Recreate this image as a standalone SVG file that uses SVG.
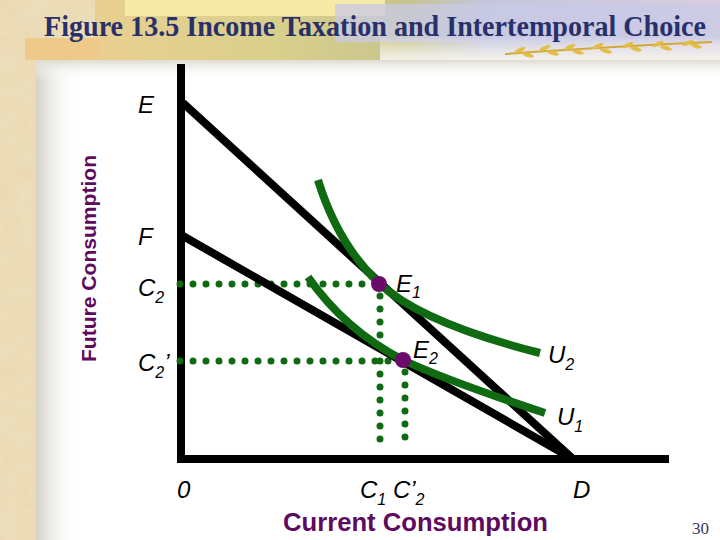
<svg xmlns="http://www.w3.org/2000/svg" width="720" height="540" viewBox="0 0 720 540">
<defs>
<linearGradient id="banner" x1="0" y1="0" x2="1" y2="0">
<stop offset="0" stop-color="#e9cf90"/>
<stop offset="0.3" stop-color="#d9cf8c"/>
<stop offset="0.5" stop-color="#c6c48e"/>
<stop offset="0.62" stop-color="#c4c6dc"/>
<stop offset="1" stop-color="#d9cde0"/>
</linearGradient>
<linearGradient id="bannerFade" x1="0" y1="0" x2="0" y2="1">
<stop offset="0" stop-color="#ffffff" stop-opacity="0"/>
<stop offset="1" stop-color="#f4f1e8" stop-opacity="1"/>
</linearGradient>
<linearGradient id="leftShade" x1="0" y1="0" x2="1" y2="0">
<stop offset="0" stop-color="#d3d1cb"/>
<stop offset="1" stop-color="#ffffff" stop-opacity="0"/>
</linearGradient>
<linearGradient id="topShade" x1="0" y1="0" x2="0" y2="1">
<stop offset="0" stop-color="#dedbd2"/>
<stop offset="1" stop-color="#ffffff" stop-opacity="0"/>
</linearGradient>
<filter id="paper" x="0" y="0" width="100%" height="100%">
<feTurbulence type="fractalNoise" baseFrequency="0.06" numOctaves="3" seed="4"/>
<feColorMatrix type="matrix" values="0 0 0 0 0.92  0 0 0 0 0.84  0 0 0 0 0.68  0 0 0 0.35 -0.05"/>
</filter>
<ellipse id="grain" cx="0" cy="0" rx="6" ry="2" fill="#e3bd45"/>
</defs>
<style>
.lbl{font-family:"Liberation Sans",Arial,sans-serif;font-size:24px;font-style:italic;fill:#000}
.sub{font-size:16px}
.axis{fill:none;stroke:#000;stroke-width:8}
.budget{fill:none;stroke:#000;stroke-width:8;stroke-linecap:butt}
.indiff{fill:none;stroke:#0f6a12;stroke-width:8}
.dots{fill:none;stroke:#0f6a12;stroke-width:7;stroke-linecap:round;stroke-dasharray:0 13}
.pt{fill:#6a0a6a}
.axtitle{font-family:"Liberation Sans",Arial,sans-serif;font-weight:bold;fill:#5e0a5e}
</style>

<g id="background">
<rect x="0" y="0" width="720" height="540" fill="#ead9b2"/>
<rect x="0" y="0" width="720" height="540" filter="url(#paper)"/>
<rect x="95" y="0" width="625" height="60" fill="url(#banner)"/>
<rect x="125" y="0" width="260" height="16" fill="#f5eaa8"/>
<rect x="335" y="4" width="385" height="38" fill="#c8cae6" opacity="0.75"/>
<rect x="380" y="36" width="340" height="24" fill="url(#bannerFade)"/>
<rect x="25" y="38" width="75" height="22" fill="#eec98a"/>
<g id="wheat">
<path d="M505,54 Q600,47 712,42" fill="none" stroke="#d2a935" stroke-width="2"/>
<use href="#grain" transform="translate(520,50) rotate(-25)"/>
<use href="#grain" transform="translate(528,55) rotate(15)"/>
<use href="#grain" transform="translate(545,48) rotate(-25)"/>
<use href="#grain" transform="translate(553,53) rotate(15)"/>
<use href="#grain" transform="translate(570,47) rotate(-25)"/>
<use href="#grain" transform="translate(578,52) rotate(15)"/>
<use href="#grain" transform="translate(598,46) rotate(-25)"/>
<use href="#grain" transform="translate(606,51) rotate(15)"/>
<use href="#grain" transform="translate(628,45) rotate(-25)"/>
<use href="#grain" transform="translate(636,49) rotate(15)"/>
<use href="#grain" transform="translate(658,44) rotate(-25)"/>
<use href="#grain" transform="translate(666,48) rotate(15)"/>
<use href="#grain" transform="translate(688,43) rotate(-25)"/>
<use href="#grain" transform="translate(696,46) rotate(15)"/>
</g>
<rect x="36" y="60" width="684" height="480" fill="#ffffff"/>
<rect x="36" y="60" width="44" height="480" fill="url(#leftShade)"/>
<rect x="36" y="60" width="684" height="20" fill="url(#topShade)"/>
</g>

<g id="title">
<text transform="translate(44,36) scale(1,1.12)" x="0" y="0" font-family="'Liberation Serif','Times New Roman',serif" font-weight="bold" font-size="26.5" fill="#28306a" textLength="662" lengthAdjust="spacingAndGlyphs">Figure 13.5 Income Taxation and Intertemporal Choice</text>
</g>

<g id="axes">
<path class="axis" d="M181,64 L181,459 L669,459"/>
</g>

<g id="connectors">
<path class="dots" d="M180,284 L370,284"/>
<path class="dots" d="M180,361 L394,361"/>
<path class="dots" d="M380,296 L380,448"/>
<path class="dots" d="M405,372 L405,448"/>
</g>

<g id="budget-ED">
<path class="budget" d="M183,103 L573,459"/>
</g>
<g id="budget-FD">
<path class="budget" d="M183,236 L573,459"/>
</g>

<g id="curve-U2">
<path class="indiff" d="M318,180 Q338,245 380,284 Q422,323 540,353"/>
</g>
<g id="curve-U1">
<path class="indiff" d="M308,277 Q345,330 403,360 Q445,380 545,413"/>
</g>

<g id="point-E1">
<circle class="pt" cx="379" cy="284" r="8"/>
<text class="lbl" x="396" y="292">E<tspan class="sub" dy="6">1</tspan></text>
</g>
<g id="point-E2">
<circle class="pt" cx="403" cy="360" r="8"/>
<text class="lbl" x="413" y="358">E<tspan class="sub" dy="6">2</tspan></text>
</g>

<g id="labels">
<text class="lbl" x="138" y="113">E</text>
<text class="lbl" x="138" y="245">F</text>
<text class="lbl" x="138" y="296">C<tspan class="sub" dy="7">2</tspan></text>
<text class="lbl" x="138" y="371">C<tspan class="sub" dy="7">2</tspan><tspan dy="-7">’</tspan></text>
<text class="lbl" x="548" y="363">U<tspan class="sub" dy="7">2</tspan></text>
<text class="lbl" x="557" y="425">U<tspan class="sub" dy="7">1</tspan></text>
<text class="lbl" x="177" y="498" font-style="normal">0</text>
<text class="lbl" x="360" y="498">C<tspan class="sub" dy="7">1</tspan><tspan dy="-7"> C’</tspan><tspan class="sub" dy="7">2</tspan></text>
<text class="lbl" x="573" y="498">D</text>
</g>

<g id="axis-titles">
<text class="axtitle" x="283" y="531" font-size="25" textLength="265" lengthAdjust="spacingAndGlyphs">Current Consumption</text>
<text class="axtitle" transform="translate(96,362) rotate(-90)" x="0" y="0" font-size="21" textLength="207" lengthAdjust="spacingAndGlyphs">Future Consumption</text>
</g>

<g id="page-number">
<text x="692" y="534" font-family="'Liberation Serif','Times New Roman',serif" font-size="17" fill="#3a3a58">30</text>
</g>
</svg>
